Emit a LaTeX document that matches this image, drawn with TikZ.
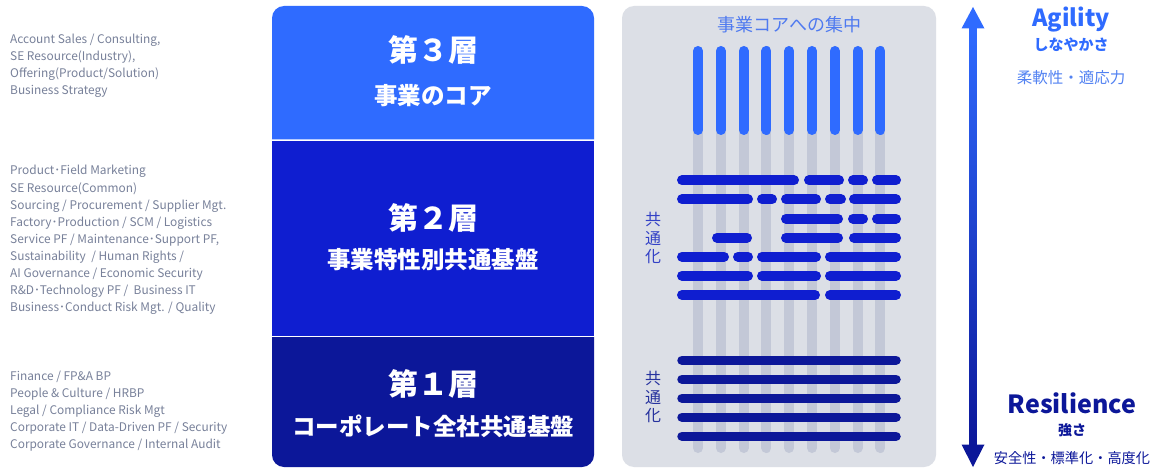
\documentclass[tikz,border=0pt]{standalone}
\usepackage{fontspec}
\setmainfont{Noto Sans CJK JP}
\definecolor{cA}{HTML}{2F6BFF}
\definecolor{cB}{HTML}{0F1ED0}
\definecolor{cC}{HTML}{0C1799}
\definecolor{panel}{HTML}{DCDFE6}
\definecolor{gbar}{HTML}{C3C8D7}
\definecolor{ltxt}{HTML}{78819A}
\definecolor{ttl}{HTML}{4F7AF0}
\definecolor{kA}{HTML}{3341C6}
\definecolor{kB}{HTML}{26329E}
\definecolor{soft}{HTML}{5282F2}
\newcommand\setfs[1]{\fontsize{#1}{#1}\selectfont}
\begin{document}
\begin{tikzpicture}[x=1pt,y=-1pt,
  lt/.style={anchor=base west,inner sep=0pt,text=ltxt,font=\setfs{11.9}},
  big/.style={inner sep=0pt,text=white,font=\bfseries\setfs{30}},
  sub/.style={inner sep=0pt,text=white,font=\bfseries\setfs{23.5}},
  vbar/.style={line width=10pt,line cap=round},
  hbar/.style={line width=10pt,line cap=round,cB},
  lbar/.style={line width=9.5pt,line cap=round,cC},
  vt/.style={inner sep=0pt,align=center,font=\fontsize{16}{18.5}\selectfont}]
\useasboundingbox (0,0) rectangle (1154,468);
\fill[white] (0,0) rectangle (1154,468);

% left texts
\foreach \t [count=\i] in {{Account Sales / Consulting,},{SE Resource(Industry),},{Offering(Product/Solution)},{Business Strategy}}
  \node[lt] (a\i) at (10,{44+16.7*(\i-1)}) {\t};
\foreach \t [count=\i] in {{Product･Field Marketing},{SE Resource(Common)},{Sourcing / Procurement / Supplier Mgt.},{Factory･Production / SCM / Logistics},{Service PF / Maintenance･Support PF,},{Sustainability \ / Human Rights /},{AI Governance / Economic Security},{R\&D･Technology PF / \ Business IT},{Business･Conduct Risk Mgt. / Quality}}
  \node[lt] (b\i) at (10,{175+17*(\i-1)}) {\t};
\foreach \t [count=\i] in {{Finance / FP\&A BP},{People \& Culture / HRBP},{Legal / Compliance Risk Mgt},{Corporate IT / Data-Driven PF / Security},{Corporate Governance / Internal Audit}}
  \node[lt] (c\i) at (10,{380+17*(\i-1)}) {\t};

% layer boxes
\fill[cA] (272,139.5) [rounded corners=12] -- (272,6) -- (594,6) [sharp corners] -- (594,139.5) -- cycle;
\fill[cB] (272,141) rectangle (594,335.5);
\fill[cC] (272,337) [rounded corners=12] -- (272,467) -- (594,467) [sharp corners] -- (594,337) -- cycle;
\node[big] (l3) at (433,50) {第３層};
\node[sub] (l3s) at (433,96) {事業のコア};
\node[big] (l2) at (433,218) {第２層};
\node[sub] (l2s) at (433,260) {事業特性別共通基盤};
\node[big] (l1) at (433,384) {第１層};
\node[sub] (l1s) at (433,426) {コーポレート全社共通基盤};

% right panel
\fill[panel,rounded corners=12] (622,6) rectangle (936,467);
\node[inner sep=0pt,text=ttl,font=\setfs{18}] (pt) at (789,25) {事業コアへの集中};
\foreach \i in {0,...,8} {
  \draw[vbar,gbar] ({698+22.8*\i},51) -- ({698+22.8*\i},448);
  \draw[vbar,cA] ({698+22.8*\i},51) -- ({698+22.8*\i},130);
}
\foreach \a/\b/\y in {677/799/180.3,804/844/180.3,848/868/180.3,872/901/180.3,
  677/753/199.3,757/777/199.3,781/821/199.3,825/846/199.3,849/901/199.3,
  781/843/218.7,848/868/218.7,872/901/218.7,
  712/752/237.7,781/843/237.7,849/901/237.7,
  677/729/256.7,733/753/256.7,757/821/256.7,825/901/256.7,
  677/753/275.7,757/821/275.7,825/901/275.7,
  677/820/295,825/901/295}
  \draw[hbar] ({\a+5},\y) -- ({\b-5},\y);
\foreach \y in {360.3,379.3,398.3,417.3,436.3}
  \draw[lbar] (682,\y) -- (896,\y);
\node[vt,text=kA] (k1) at (653,238) {共\\通\\化};
\node[vt,text=kB] (k2) at (653,397) {共\\通\\化};

% arrow
\coordinate (atop) at (973,7);
\coordinate (abot) at (973,467);
\fill[top color=cA,bottom color=cC] (969.2,27) rectangle (976.8,446);
\fill[cA] (atop) -- (984.5,28.5) -- (961.5,28.5) -- cycle;
\fill[cC] (abot) -- (984.5,444.5) -- (961.5,444.5) -- cycle;

% right labels
\node[inner sep=0pt,text=cA,font=\bfseries\setfs{23.5}] (ag) at (1071,20) {Agility};
\node[inner sep=0pt,text=cA,font=\bfseries\setfs{15}] (ag2) at (1071,45) {しなやかさ};
\node[inner sep=0pt,text=soft,font=\setfs{15.5}] (ag3) at (1071,78) {柔軟性・適応力};
\node[inner sep=0pt,text=cC,font=\bfseries\setfs{25}] (rs) at (1072,403) {Resilience};
\node[inner sep=0pt,text=cC,font=\bfseries\setfs{14}] (rs2) at (1072,430) {強さ};
\node[inner sep=0pt,text=cC,font=\setfs{14.2}] (rs3) at (1072,458) {安全性・標準化・高度化};
\end{tikzpicture}
\end{document}
